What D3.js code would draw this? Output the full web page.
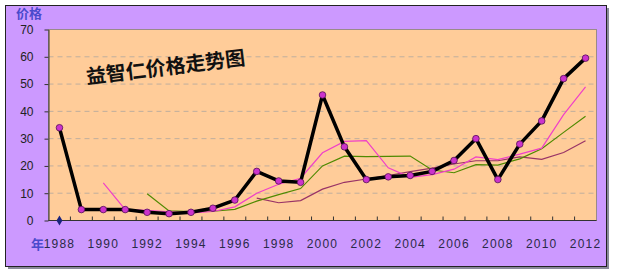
<!DOCTYPE html>
<html>
<head>
<meta charset="utf-8">
<script src="https://cdn.jsdelivr.net/npm/d3@7"></script>
<style>
  body { margin: 0; background: #fff; }
  svg { display: block; }
</style>
</head>
<body>
<div class="chart"></div>
<script>
// chart data
var years = d3.range(1988, 2013).map(String);
var price = [34, 4, 4, 4, 3, 2.5, 3, 4.5, 7.5, 18, 14.5, 14, 46, 27, 15, 16, 16.5, 18, 22, 30, 15, 28, 36.5, 52, 59.5];
var avg3 = [null, null, 13.8, 4, 3.7, 3.2, 2.8, 3.3, 5, 10, 13.3, 15.5, 24.8, 29, 29.3, 19.3, 15.8, 16.8, 18.8, 23.3, 22.3, 24.3, 26.5, 38.8, 49];
var avg5 = [null, null, null, null, 9.8, 3.5, 3.3, 3.4, 4.1, 7.1, 9.5, 11.7, 20, 23.6, 23.4, 23.5, 23.6, 18.5, 17.5, 20.5, 20.3, 22.6, 26.3, 32.3, 38.2];
var avg10 = [null, null, null, null, null, null, null, null, null, 8.2, 6.5, 7.3, 11.5, 14, 15.2, 16.5, 17.9, 19.2, 20.7, 21.9, 21.9, 23.3, 22.4, 24.9, 29.2];
var baseMark = [0];
var yTicks = [0, 10, 20, 30, 40, 50, 60, 70];
var xLabels = years.filter((d, i) => i % 2 == 0);

var svgWidth = 619;
var svgHeight = 276;
var margin = { top: 29.5, right: 22.5, bottom: 55.5, left: 48.5 };
var chartWidth = svgWidth - margin.left - margin.right;
var chartHeight = svgHeight - margin.top - margin.bottom;

var svg = d3.select(".chart").append("svg")
    .attr("width", svgWidth)
    .attr("height", svgHeight);

// outer purple frame with shadow
svg.append("rect")
    .attr("x", 8).attr("y", 8).attr("width", 601).attr("height", 261)
    .attr("fill", "#8a8a9a");
svg.append("rect")
    .attr("x", 5.5).attr("y", 5.5).attr("width", 601).attr("height", 261)
    .attr("fill", "#cc99ff")
    .attr("stroke", "#222")
    .attr("stroke-width", 1);

var chartGroup = svg.append("g")
    .attr("transform", `translate(${margin.left}, ${margin.top})`);

chartGroup.append("rect")
    .attr("width", chartWidth)
    .attr("height", chartHeight)
    .attr("fill", "#ffcc99")
    .attr("stroke", "#9a8a8a")
    .attr("stroke-width", 1);

var xScale = d3.scaleBand()
    .domain(years)
    .range([0, chartWidth]);

var yScale = d3.scaleLinear()
    .domain([0, 70])
    .range([chartHeight, 0]);

var xc = d => xScale(d) + xScale.bandwidth() / 2;

// dashed grid lines
chartGroup.append("g")
    .selectAll("line")
    .data(yTicks.slice(1, -1))
    .enter()
    .append("line")
    .attr("x1", 0)
    .attr("x2", chartWidth)
    .attr("y1", d => yScale(d))
    .attr("y2", d => yScale(d))
    .attr("stroke", "#bfae9e")
    .attr("stroke-dasharray", "5,4");

// y axis
var yAxis = d3.axisLeft(yScale).tickValues(yTicks).tickSize(4).tickSizeOuter(0).tickPadding(11);
var yAxisG = chartGroup.append("g").call(yAxis);
yAxisG.select(".domain").attr("stroke", "#333");
yAxisG.selectAll(".tick line").attr("stroke", "#333");
yAxisG.selectAll("text")
    .attr("font-family", "Liberation Sans, Arial, sans-serif")
    .attr("font-size", 12)
    .attr("fill", "#222");

// x axis: ticks at band boundaries pointing inward
var xAxisG = chartGroup.append("g")
    .attr("transform", `translate(0, ${chartHeight})`);
xAxisG.append("line")
    .attr("x1", 0).attr("x2", chartWidth)
    .attr("stroke", "#333");
xAxisG.selectAll(".xtick")
    .data(years.slice(1))
    .enter()
    .append("line")
    .attr("class", "xtick")
    .attr("x1", d => xScale(d))
    .attr("x2", d => xScale(d))
    .attr("y1", 0)
    .attr("y2", -4)
    .attr("stroke", "#333");
xAxisG.selectAll("text")
    .data(xLabels)
    .enter()
    .append("text")
    .attr("x", d => xc(d))
    .attr("y", 27)
    .attr("text-anchor", "middle")
    .attr("font-family", "Liberation Sans, Arial, sans-serif")
    .attr("font-size", 12)
    .attr("letter-spacing", 1.2)
    .attr("fill", "#2a2a48")
    .text(d => d);

// axis titles
svg.append("text")
    .attr("x", 31).attr("y", 249)
    .attr("font-family", "Noto Sans CJK SC")
    .attr("font-weight", "bold")
    .attr("font-size", 13)
    .attr("fill", "#4a4acc")
    .text("年");
svg.append("text")
    .attr("x", 16).attr("y", 18)
    .attr("font-family", "Noto Sans CJK SC")
    .attr("font-weight", "bold")
    .attr("font-size", 13)
    .attr("fill", "#4a4acc")
    .text("价格");

// chart title
svg.append("text")
    .attr("transform", "translate(87, 84) rotate(-7)")
    .attr("font-family", "Noto Sans CJK SC")
    .attr("font-weight", "bold")
    .attr("font-size", 20)
    .attr("fill", "#111")
    .text("益智仁价格走势图");

// lines
var line = d3.line()
    .defined(d => d.v != null)
    .x(d => xc(d.year))
    .y(d => yScale(d.v));

function toPoints(values) {
    return years.map((y, i) => ({ year: y, v: values[i] == undefined ? null : values[i] }));
}

var series = [
    { values: avg10, color: "#993366", width: 1.2 },
    { values: avg5, color: "#4f8a00", width: 1.2 },
    { values: avg3, color: "#f040c8", width: 1.2 }
];

series.forEach(s => {
    chartGroup.append("path")
        .datum(toPoints(s.values))
        .attr("fill", "none")
        .attr("stroke", s.color)
        .attr("stroke-width", s.width)
        .attr("d", line);
});

chartGroup.append("path")
    .datum(toPoints(price))
    .attr("fill", "none")
    .attr("stroke", "#000")
    .attr("stroke-width", 3.5)
    .attr("stroke-linejoin", "round")
    .attr("d", line);

chartGroup.append("g")
    .selectAll("circle")
    .data(toPoints(price))
    .enter()
    .append("circle")
    .attr("cx", d => xc(d.year))
    .attr("cy", d => yScale(d.v))
    .attr("r", 3.3)
    .attr("fill", "#cc33cc")
    .attr("stroke", "#551155")
    .attr("stroke-width", 0.8);

// blue diamond marker at the base
chartGroup.append("g")
    .selectAll("path")
    .data(toPoints(baseMark).filter(d => d.v != null))
    .enter()
    .append("path")
    .attr("d", d3.symbol().type(d3.symbolDiamond).size(30))
    .attr("transform", d => `translate(${xc(d.year)}, ${yScale(d.v)})`)
    .attr("fill", "#1a237e");
</script>
</body>
</html>
